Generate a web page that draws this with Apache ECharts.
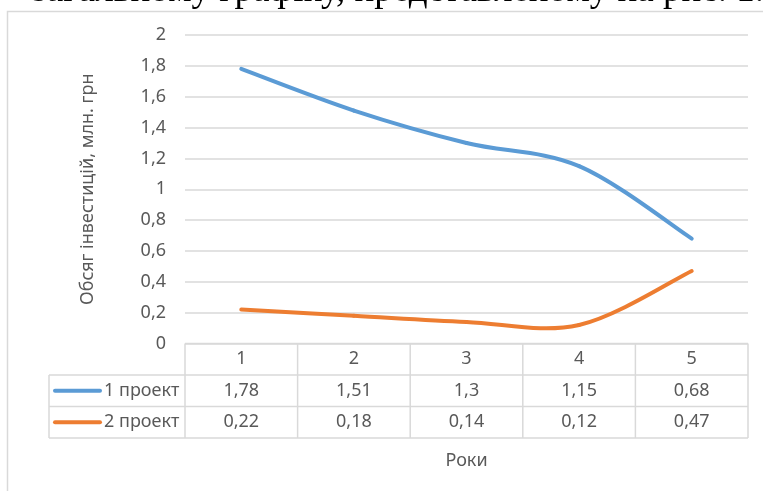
<!DOCTYPE html>
<html>
<head>
<meta charset="utf-8">
<script src="https://cdn.jsdelivr.net/npm/echarts@6/dist/echarts.min.js"></script>
<style>
  html, body { margin: 0; padding: 0; background: #ffffff; }
  #chart { width: 763px; height: 491px; }
</style>
</head>
<body>
<div id="chart"></div>
<script>
// Роки та обсяги інвестицій за двома проектами (млн. грн)
const years = ['1', '2', '3', '4', '5'];
const project1 = [1.78, 1.51, 1.3, 1.15, 0.68];
const project2 = [0.22, 0.18, 0.14, 0.12, 0.47];
const seriesNames = ['1 проект', '2 проект'];
const seriesColors = ['#5B9BD5', '#ED7D31'];
const yTicks = { min: 0, max: 2, interval: 0.2 };
const yTitle = 'Обсяг інвестицій, млн. грн';
const xTitle = 'Роки';
const headText = 'загальному графіку, представленому на рис. 1.';

const FONT = '"Noto Sans", sans-serif';
const TEXT = '#595959';
const GRID = '#D9D9D9';
const comma = v => String(v).replace('.', ',');

const chart = echarts.init(document.getElementById('chart'), null, { renderer: 'canvas' });

const seriesData = [project1, project2];

// Згладжена лінія: кожен відрізок — крива Безьє між сусідніми точками,
// дотичні беруться за сусідніми значеннями (як у згладжених лініях Excel)
function smoothSegment(values, color) {
  return function (params, api) {
    const i = params.dataIndex;
    const n = values.length;
    if (i >= n - 1) return null;
    const p = k => api.coord([Math.min(Math.max(k, 0), n - 1), values[Math.min(Math.max(k, 0), n - 1)]]);
    const p0 = p(i - 1), p1 = p(i), p2 = p(i + 1), p3 = p(i + 2);
    return {
      type: 'bezierCurve',
      shape: {
        x1: p1[0], y1: p1[1],
        cpx1: p1[0] + (p2[0] - p0[0]) / 6, cpy1: p1[1] + (p2[1] - p0[1]) / 6,
        cpx2: p2[0] - (p3[0] - p1[0]) / 6, cpy2: p2[1] - (p3[1] - p1[1]) / 6,
        x2: p2[0], y2: p2[1]
      },
      style: { stroke: color, lineWidth: 4, fill: null, lineCap: 'round' }
    };
  };
}

chart.setOption({
  animation: false,
  backgroundColor: '#ffffff',
  grid: { left: 185, right: 15, top: 35, bottom: 147.5, containLabel: false },
  xAxis: {
    type: 'category',
    data: years,
    boundaryGap: true,
    axisLine: { show: false },
    axisTick: { show: false },
    axisLabel: { show: false },
    splitLine: { show: false },
    name: xTitle,
    nameLocation: 'middle',
    nameGap: 108,
    nameTextStyle: { color: TEXT, fontSize: 18, fontFamily: FONT }
  },
  yAxis: {
    type: 'value',
    min: yTicks.min,
    max: yTicks.max,
    interval: yTicks.interval,
    axisLine: { show: false },
    axisTick: { show: false },
    axisLabel: {
      color: TEXT, fontSize: 18, fontFamily: FONT, margin: 19,
      formatter: v => comma(+v.toFixed(1))
    },
    splitLine: { lineStyle: { color: GRID, width: 1.5 } },
    name: yTitle,
    nameLocation: 'middle',
    nameRotate: 90,
    nameGap: 88,
    nameTextStyle: { color: TEXT, fontSize: 18, fontFamily: FONT }
  },
  series: seriesData.map((d, i) => ({
    name: seriesNames[i],
    type: 'custom',
    data: d.map((v, k) => [k, v]),
    encode: { x: 0, y: 1 },
    clip: false,
    renderItem: smoothSegment(d, seriesColors[i]),
    z: 5
  }))
});

// Таблиця даних під віссю X, побудована за позиціями категорій осі
function buildTable() {
  const centers = years.map((_, i) => chart.convertToPixel({ xAxisIndex: 0 }, i));
  const step = centers.length > 1 ? centers[1] - centers[0] : 100;
  const left = centers[0] - step / 2;
  const right = centers[centers.length - 1] + step / 2;
  const top = chart.convertToPixel({ yAxisIndex: 0 }, yTicks.min);
  const rowH = 31.5;
  const legendLeft = 49;
  const rows = [top, top + rowH, top + 2 * rowH, top + 3 * rowH];
  const els = [];
  const line = (x1, y1, x2, y2) => els.push({
    type: 'line', silent: true,
    shape: { x1, y1, x2, y2 },
    style: { stroke: GRID, lineWidth: 1.5 }
  });
  // горизонтальні лінії
  line(left, rows[0], right, rows[0]);
  for (let r = 1; r < rows.length; r++) line(legendLeft, rows[r], right, rows[r]);
  // вертикальні лінії
  line(legendLeft, rows[1], legendLeft, rows[3]);
  for (let c = 0; c <= years.length; c++) {
    const x = left + c * step;
    line(x, rows[0], x, rows[3]);
  }
  // заголовки стовпців
  years.forEach((y, i) => els.push({
    type: 'text', silent: true, x: centers[i], y: (rows[0] + rows[1]) / 2,
    style: { text: y, fill: TEXT, font: '18px ' + FONT, align: 'center', verticalAlign: 'middle' }
  }));
  // рядки серій
  seriesData.forEach((d, s) => {
    const cy = (rows[s + 1] + rows[s + 2]) / 2;
    els.push({
      type: 'line', silent: true,
      shape: { x1: 55, y1: cy, x2: 100, y2: cy },
      style: { stroke: seriesColors[s], lineWidth: 4, lineCap: 'round' }
    });
    els.push({
      type: 'text', silent: true, x: 104, y: cy,
      style: { text: seriesNames[s], fill: TEXT, font: '18px ' + FONT, align: 'left', verticalAlign: 'middle' }
    });
    d.forEach((v, i) => els.push({
      type: 'text', silent: true, x: centers[i], y: cy,
      style: { text: comma(v), fill: TEXT, font: '18px ' + FONT, align: 'center', verticalAlign: 'middle' }
    }));
  });
  // рамка області діаграми
  els.push({
    type: 'rect', silent: true, z: -1,
    shape: { x: 7.5, y: 11.5, width: 800, height: 520 },
    style: { fill: null, stroke: GRID, lineWidth: 1.5 }
  });
  // рядок тексту над діаграмою
  els.push({
    type: 'text', silent: true, x: 764, y: 10,
    style: { text: headText, fill: '#000000', font: '37px "Liberation Serif", serif', align: 'right', verticalAlign: 'bottom' }
  });
  chart.setOption({ graphic: { elements: els } });
}
buildTable();
</script>
</body>
</html>
